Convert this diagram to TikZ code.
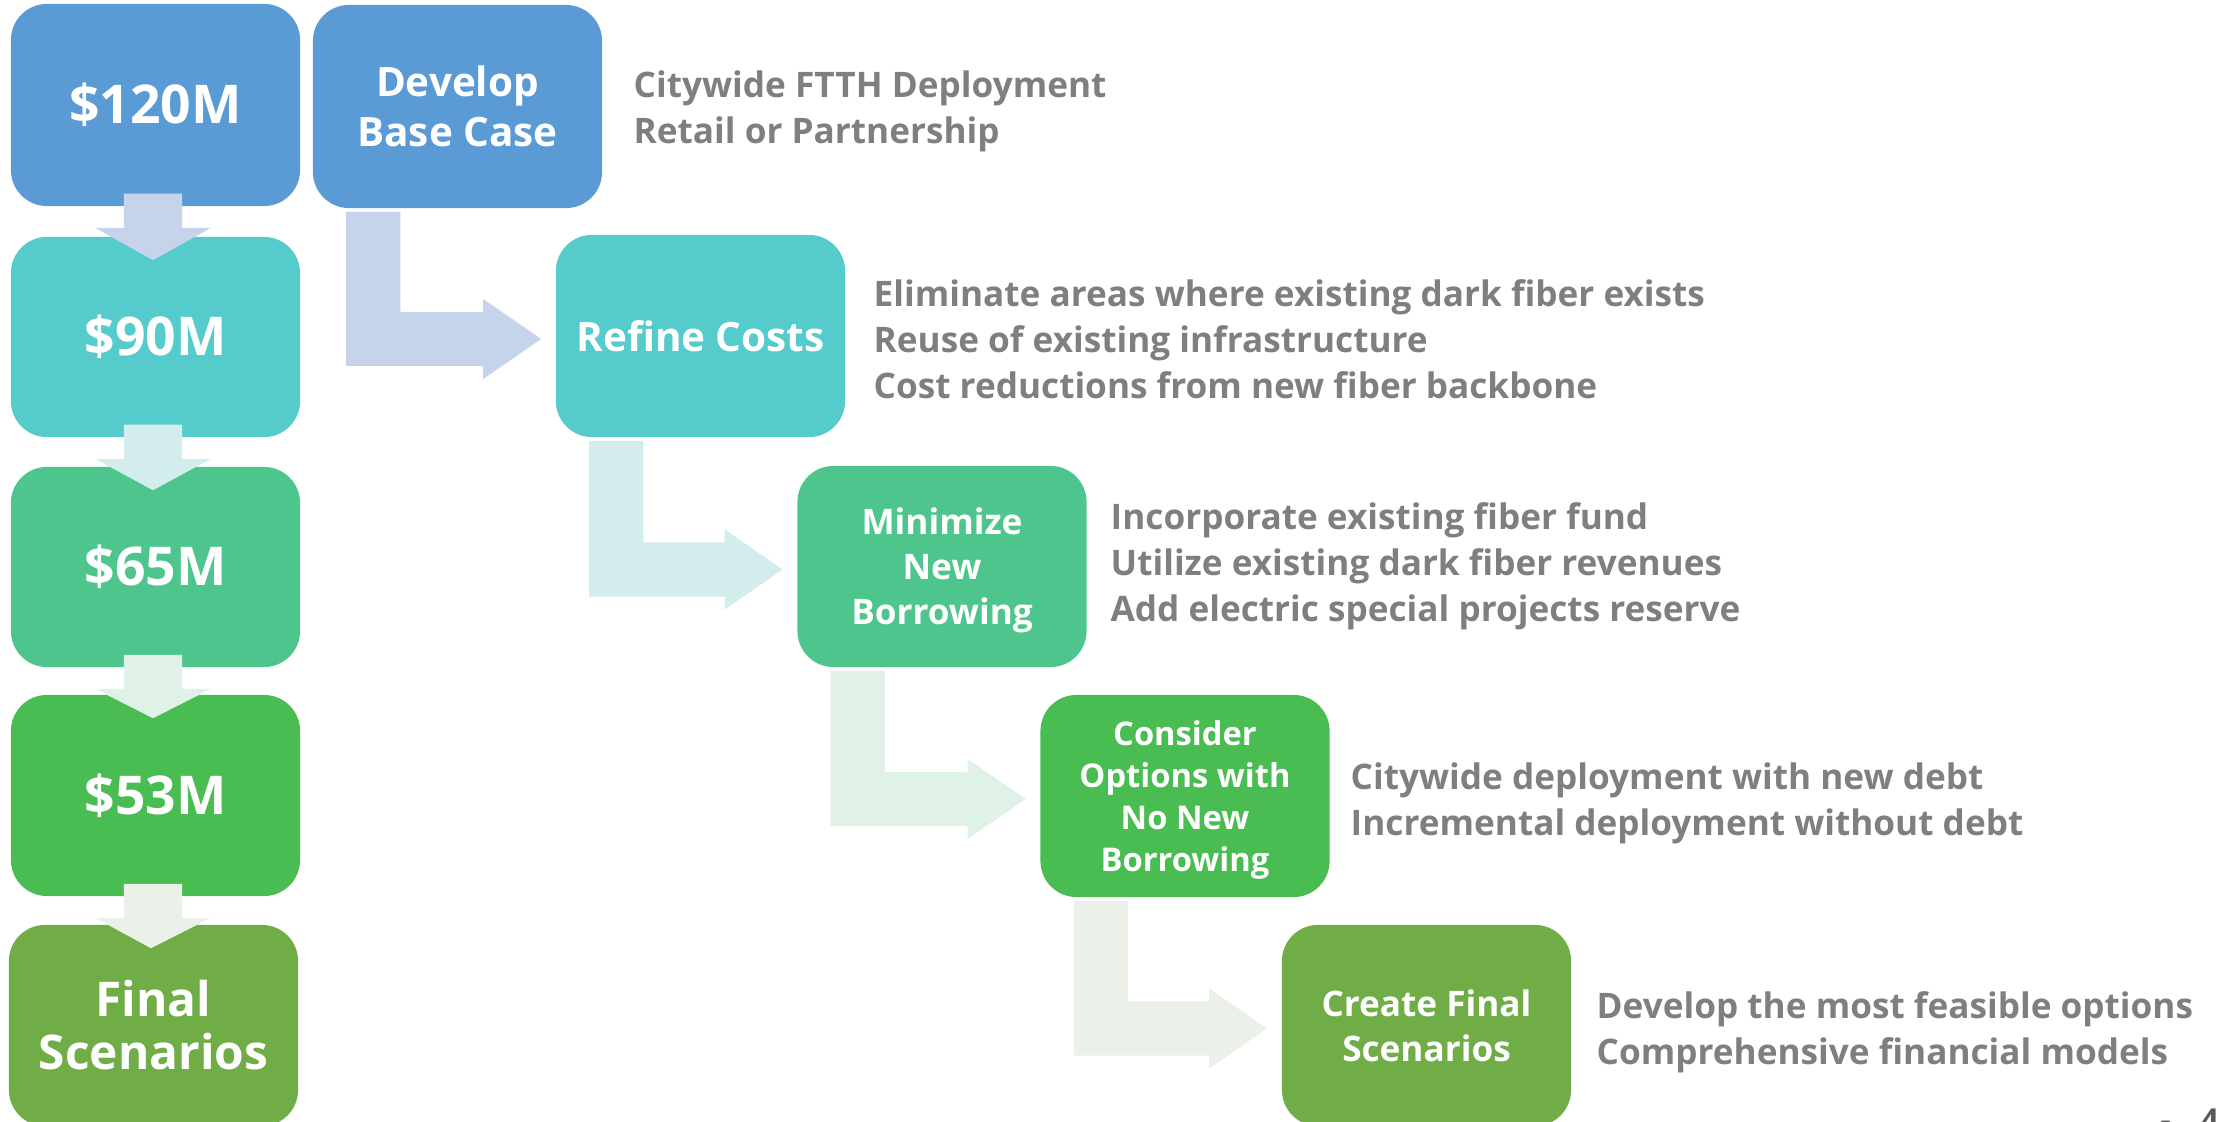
\documentclass[tikz,border=0pt]{standalone}
\usepackage{fontspec}
\setmainfont{Open Sans}
\usetikzlibrary{calc}
\definecolor{cblue}{HTML}{5B9BD5}
\definecolor{cteal}{HTML}{56CBCB}
\definecolor{cmint}{HTML}{4EC58C}
\definecolor{cgreen}{HTML}{49BC52}
\definecolor{colive}{HTML}{70AD47}
\definecolor{aone}{HTML}{C5D4EB}
\definecolor{atwo}{HTML}{D3ECEC}
\definecolor{athree}{HTML}{E0F1E7}
\definecolor{afour}{HTML}{EBF1E8}
\definecolor{descgray}{HTML}{7F7F7F}
\definecolor{pgray}{HTML}{595959}
\tikzset{
  box/.style={rounded corners=0.36cm, inner sep=0pt, minimum width=2.89cm, text=white, align=center},
  boxtext/.style={inner sep=0pt, text=white, align=center},
  amt/.style={font={\fontsize{15.2}{17}\selectfont\bfseries}},
  big/.style={font={\fontsize{11.5}{14.2}\selectfont\bfseries}},
  mid/.style={font={\fontsize{10}{12.8}\selectfont\bfseries}},
  desc/.style={anchor=west, align=left, text=descgray, inner sep=0pt, font={\fontsize{10}{13.1}\selectfont\bfseries}},
}
\newcommand\MyDownArr[3]{%
 \fill[#3] let \p1=(#1.south), \p2=(#2.north) in
  ({\x1-0.315cm},{\y1+0.13cm}) -- ({\x1+0.265cm},{\y1+0.13cm}) -- ({\x1+0.265cm},{\y1-0.21cm}) -- ({\x1+0.555cm},{\y1-0.21cm}) -- ({\x2-0.025cm},{\y2-0.24cm}) -- ({\x1-0.605cm},{\y1-0.21cm}) -- ({\x1-0.315cm},{\y1-0.21cm}) -- cycle;}
\newcommand\MyLArr[3]{%
 \fill[#3] let \p1=(#1.south west), \p2=(#2.west) in
  ({\x1+0.34cm},{\y1-0.03cm}) -- ({\x1+0.88cm},{\y1-0.03cm}) -- ({\x1+0.88cm},{\y2+0.24cm}) -- ({\x2-0.72cm},{\y2+0.24cm}) -- ({\x2-0.72cm},{\y2+0.37cm}) -- ({\x2-0.14cm},{\y2-0.03cm}) -- ({\x2-0.72cm},{\y2-0.43cm}) -- ({\x2-0.72cm},{\y2-0.30cm}) -- ({\x1+0.34cm},{\y2-0.30cm}) -- cycle;}
\begin{document}
\begin{tikzpicture}[x=0.01cm,y=-0.01cm]
\useasboundingbox (0,0) rectangle (2221,1122);
\clip (0,0) rectangle (2221,1122);
% left column
\node[box, amt, fill=cblue, minimum height=2.02cm] (b120) at (155.5,105) {\$120M};
\node[box, amt, fill=cteal, minimum height=2.00cm] (b90) at (155.5,337) {\$90M};
\node[box, amt, fill=cmint, minimum height=2.00cm] (b65) at (155.5,567) {\$65M};
\node[box, amt, fill=cgreen, minimum height=2.01cm] (b53) at (155.5,795.5) {\$53M};
\node[box, fill=colive, minimum height=2.01cm, font={\fontsize{13.6}{15.1}\selectfont\bfseries}] (bfin) at (153.5,1025.5) {Final\\Scenarios};
% staircase
\node[box, big, fill=cblue, minimum height=2.03cm] (dev) at (457.5,106.5) {Develop\\Base Case};
\node[box, big, fill=cteal, minimum height=2.02cm] (ref) at (700.5,336) {Refine Costs};
\node[box, fill=cmint, minimum height=2.01cm] (min) at (942,566.5) {};
\node[boxtext, mid] (mint) at ($(min.center)+(0,4)$) {Minimize\\New\\Borrowing};
\node[box, fill=cgreen, minimum height=2.02cm] (con) at (1185,796) {};
\node[boxtext, font={\fontsize{9.3}{11.9}\selectfont\bfseries}] (cont) at ($(con.center)+(0,4)$) {Consider\\Options with\\No New\\Borrowing};
\node[box, mid, fill=colive, minimum height=2.01cm] (cre) at (1426.5,1025.5) {Create Final\\Scenarios};
% down arrows
\MyDownArr{b120}{b90}{aone}
\MyDownArr{b90}{b65}{atwo}
\MyDownArr{b65}{b53}{athree}
\MyDownArr{b53}{bfin}{afour}
% L arrows
\MyLArr{dev}{ref}{aone}
\MyLArr{ref}{min}{atwo}
\MyLArr{min}{con}{athree}
\MyLArr{con}{cre}{afour}
% descriptions
\node[desc] (d1) at (633,111.5) {Citywide FTTH Deployment\\Retail or Partnership};
\node[desc] (d2) at (873,339) {Eliminate areas where existing dark fiber exists\\Reuse of existing infrastructure\\Cost reductions from new fiber backbone};
\node[desc] (d3) at (1110,566) {Incorporate existing fiber fund\\Utilize existing dark fiber revenues\\Add electric special projects reserve};
\node[desc] (d4) at (1350,803) {Citywide deployment with new debt\\Incremental deployment without debt};
\node[desc] (d5) at (1596,1032) {Develop the most feasible options\\Comprehensive financial models};
% page number
\node[anchor=base west, text=pgray, inner sep=0pt, font={\fontsize{9}{10}\selectfont\bfseries}] (pg) at (2160,1131) {-\hspace{0.3cm}4};
\end{tikzpicture}
\end{document}
